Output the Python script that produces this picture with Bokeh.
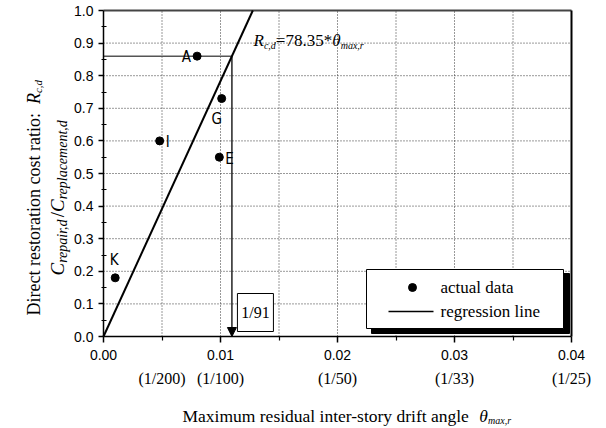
import math
import numpy as np
from bokeh.plotting import figure
from bokeh.models import Range1d, FixedTicker, PrintfTickFormatter, Label, Arrow, NormalHead
from bokeh.core.properties import value
from bokeh.embed import file_html
from bokeh.resources import INLINE

# ---------------- data ----------------
point_names = ["A", "G", "I", "E", "K"]
drift_angle = [0.0080, 0.0101, 0.0048, 0.0099, 0.0010]
cost_ratio = [0.86, 0.73, 0.60, 0.55, 0.18]
slope = 78.35
target_ratio = 0.86
x_ticks = [0.0, 0.01, 0.02, 0.03, 0.04]
x_minor = [0.005, 0.015, 0.025, 0.035]
x_grid = [0.005, 0.01, 0.015, 0.02, 0.025, 0.03, 0.035]
frac_ticks = [0.005, 0.01, 0.02, 0.03, 0.04]
frac_labels = ["(1/200)", "(1/100)", "(1/50)", "(1/33)", "(1/25)"]
y_ticks = [0.0, 0.1, 0.2, 0.3, 0.4, 0.5, 0.6, 0.7, 0.8, 0.9, 1.0]
y_minor = [0.05, 0.15, 0.25, 0.35, 0.45, 0.55, 0.65, 0.75, 0.85, 0.95]
y_grid = [0.1, 0.2, 0.3, 0.4, 0.5, 0.6, 0.7, 0.8, 0.9]
box_text = "1/91"
legend_texts = ["actual data", "regression line"]

# ---------------- layout (page pixels) ----------------
W, H = 606, 428
PL, PR, PT, PB = 103, 571, 10, 336   # plot box in page pixels
XMAX, YMAX = 0.04, 1.0

def dx(px):
    return (px - PL) / (PR - PL) * XMAX

def dy(py):
    return (PB - py) / (PB - PT) * YMAX

SERIF = "Liberation Serif"
SANS = "Liberation Sans"

TIMES = {' ': 250, '(': 333, ')': 333, '*': 500, ',': 250, '-': 333, '.': 250, '/': 278,
         ':': 278, '=': 564, 'A': 722, 'C': 667, 'D': 722, 'M': 889, 'R': 667,
         'a': 444, 'b': 500, 'c': 444, 'd': 500, 'e': 444, 'f': 333, 'g': 500, 'h': 500,
         'i': 278, 'j': 278, 'k': 500, 'l': 278, 'm': 778, 'n': 500, 'o': 500, 'p': 500,
         'q': 500, 'r': 333, 's': 389, 't': 278, 'u': 500, 'v': 500, 'w': 722, 'x': 500,
         'y': 500, 'z': 444}
TIMES_I = {' ': 250, ',': 250, 'R': 611, 'C': 667, 'a': 500, 'c': 444, 'd': 500, 'e': 444,
           'i': 278, 'l': 278, 'm': 722, 'n': 500, 'p': 500, 'r': 389, 't': 278, 'x': 444}

p = figure(width=W, height=H, x_range=Range1d(dx(0), dx(W)), y_range=Range1d(dy(H), dy(0)),
           output_backend="svg", toolbar_location=None,
           min_border=0, min_border_left=0, min_border_right=0, min_border_top=0,
           min_border_bottom=0)
p.background_fill_color = "white"
p.border_fill_color = "white"
p.outline_line_color = None
p.xgrid.visible = False
p.ygrid.visible = False

# axes drawn at the data origin
p.xaxis.fixed_location = 0.0
p.yaxis.fixed_location = 0.0
p.xaxis.bounds = (0.0, XMAX)
p.yaxis.bounds = (0.0, YMAX)
p.xaxis.ticker = FixedTicker(ticks=x_ticks, minor_ticks=x_minor)
p.xaxis.formatter = PrintfTickFormatter(format="%.2f")
p.yaxis.ticker = FixedTicker(ticks=y_ticks, minor_ticks=y_minor)
p.yaxis.formatter = PrintfTickFormatter(format="%.1f")
for ax in (p.xaxis, p.yaxis):
    ax.axis_line_width = 1.5
    ax.axis_line_color = "black"
    ax.major_tick_line_color = "black"
    ax.major_tick_line_width = 1.5
    ax.minor_tick_line_color = "black"
    ax.minor_tick_line_width = 1.2
    ax.major_label_text_font = SANS
    ax.major_label_text_font_size = "14px"
    ax.major_label_text_color = "black"
    ax.major_tick_in = 0
p.xaxis.major_tick_out = 6
p.xaxis.minor_tick_out = 4
p.xaxis.minor_tick_in = 0
p.xaxis.major_label_standoff = 7
p.yaxis.major_tick_out = 5
p.yaxis.minor_tick_out = 2
p.yaxis.minor_tick_in = 3
p.yaxis.major_label_standoff = 5

# dotted grid (inside the plot box only)
p.segment(x0=x_grid, y0=[0.0] * len(x_grid), x1=x_grid, y1=[YMAX] * len(x_grid),
          line_color="#333333", line_dash="1 2", line_width=1)
p.segment(x0=[0.0] * len(y_grid), y0=y_grid, x1=[XMAX] * len(y_grid), y1=y_grid,
          line_color="#333333", line_dash="1 2", line_width=1)

# box top / right edges
p.segment(x0=[0.0], y0=[YMAX], x1=[XMAX], y1=[YMAX], line_color="#444444", line_width=2)
p.segment(x0=[XMAX], y0=[0.0], x1=[XMAX], y1=[YMAX], line_color="black", line_width=2)

# 1/91 indicator lines
theta_t = target_ratio / slope
p.line([0, theta_t], [target_ratio, target_ratio], line_color="#555555", line_width=1.5)
p.add_layout(Arrow(end=NormalHead(size=9, fill_color="black", line_color="black"),
                   x_start=theta_t, y_start=target_ratio, x_end=theta_t, y_end=0.0,
                   line_color="black", line_width=1.3))

# regression line
x_reg = np.array([0.0, YMAX / slope])
p.line(x_reg, slope * x_reg, line_color="black", line_width=2)

# data points
p.scatter(drift_angle, cost_ratio, size=8, color="black")

# point labels
lab_off = [(-6, 1, "right", "middle"), (-5, 11, "center", "top"), (6, 1, "left", "middle"),
           (6, 2, "left", "middle"), (-1, -9, "center", "bottom")]
for i, name in enumerate(point_names):
    ox, oy, al, bl = lab_off[i]
    p.text([drift_angle[i]], [cost_ratio[i]], text=[name], x_offset=ox, y_offset=oy,
           text_align=al, text_baseline=bl, text_font_size="15px",
           text_font=value("Liberation Sans Narrow, DejaVu Sans Condensed, sans-serif"),
           text_color="black")

# 1/91 box
bx0 = theta_t + 5.5 / (PR - PL) * XMAX
p.quad(left=[bx0], right=[bx0 + 36 / (PR - PL) * XMAX], bottom=[dy(331)], top=[dy(293)],
       fill_color="white", line_color="black", line_width=1)
p.text([bx0 + 18 / (PR - PL) * XMAX], [dy(312)], text=[box_text], text_align="center",
       text_baseline="middle", text_font=value(SERIF), text_font_size="16px", text_color="black")

# legend (manual, with shadow)
lx0, lx1, ly0, ly1 = 366, 563, 269, 328
p.quad(left=[dx(lx0 + 5)], right=[dx(lx1 + 6)], top=[dy(ly0 + 4)], bottom=[dy(ly1 + 5)],
       fill_color="black", line_color="black")
p.quad(left=[dx(lx0)], right=[dx(lx1)], top=[dy(ly0)], bottom=[dy(ly1)],
       fill_color="white", line_color="black", line_width=1)
p.scatter([dx(412)], [dy(287)], size=8, color="black")
p.line([dx(388), dx(433)], [dy(311), dy(311)], line_color="black", line_width=1.5)
for t, fy in zip(legend_texts, [287, 311]):
    p.text([dx(440)], [dy(fy)], text=[t], text_align="left", text_baseline="middle",
           text_font=value(SERIF), text_font_size="17px", text_color="black")

# second tick-label row (fractions)
p.text(frac_ticks, [dy(378)] * len(frac_ticks), text=frac_labels, text_align="center",
       text_baseline="middle", text_font=value(SERIF), text_font_size="16px",
       text_color="black")


def runs(x0, y0, items, vertical=False):
    pos = 0.0
    for text, size, italic, shift, gap in items:
        pos += gap
        table = TIMES_I if italic else TIMES
        w = sum(table.get(ch, 500) for ch in text) * size / 1000.0
        if vertical:
            fx, fy, ang = x0 + shift, y0 - pos, math.pi / 2
        else:
            fx, fy, ang = x0 + pos, y0 + shift, 0.0
        p.text([dx(fx)], [dy(fy)], text=[text], angle=ang,
               text_font=value(SERIF), text_font_size=f"{size}px",
               text_font_style="italic" if italic else "normal",
               text_align="left", text_baseline="alphabetic", text_color="black")
        pos += w


# equation
runs(253, 40, [("R", 17, True, 0, 0), ("c,d", 10, True, 5, 0), ("=78.35*", 17, False, 0, 0),
               ("θ", 17, True, 0, 0), ("max,r", 10, True, 5, 0)])

# x-axis title
runs(182, 415, [("Maximum residual inter-story drift angle", 17.5, False, 0, 0),
                ("θ", 17.5, True, 0, 10), ("max,r", 10, True, 5, 0)])

# y-axis title (two rotated lines)
runs(33, 315, [("Direct restoration cost ratio:", 18, False, 0, 0), ("R", 18, True, 0, 9),
               ("c,d", 11, True, 4, 0)], vertical=True)
runs(57, 275, [("C", 19, True, 0, 0), ("repair,d", 14, True, 5, 0), ("/", 19, False, 0, 0),
               ("C", 19, True, 0, 0), ("replacement,d", 14, True, 5, 0)], vertical=True)

open("out.html", "w").write(file_html(p, INLINE))
